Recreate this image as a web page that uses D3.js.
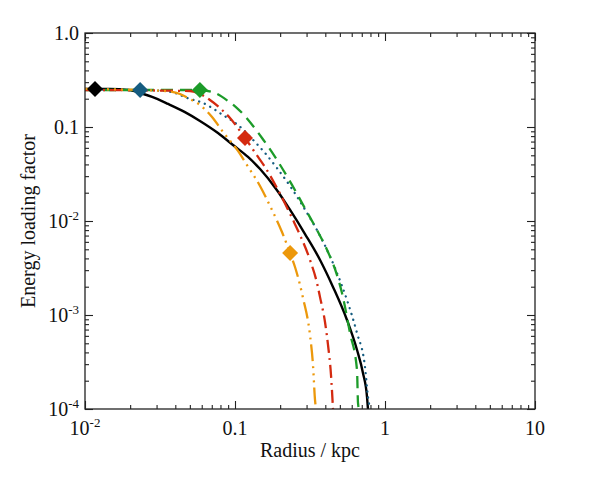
<!DOCTYPE html>
<html>
<head>
<meta charset="utf-8">
<script src="https://cdn.jsdelivr.net/npm/d3@7"></script>
<style>
body { margin: 0; background: #fff; }
svg text { font-family: "Liberation Serif", "Times New Roman", serif; fill: #111; }
</style>
</head>
<body>
<svg id="chart" width="598" height="478"></svg>
<script>
// radius (kpc) and energy loading factor for each run
var blackR = [0.0100, 0.0147, 0.0194, 0.0233, 0.0280, 0.0358, 0.0464, 0.0584, 0.0770, 0.0970, 0.122, 0.147, 0.190, 0.233, 0.293, 0.369, 0.450, 0.558, 0.651, 0.713, 0.759, 0.770];
var blackF = [0.254, 0.254, 0.248, 0.230, 0.209, 0.176, 0.144, 0.116, 0.0863, 0.0643, 0.0480, 0.0357, 0.0214, 0.0131, 0.00727, 0.00385, 0.00199, 0.000885, 0.000424, 0.000242, 0.000134, 0.0001];

var blueR = [0.0100, 0.0233, 0.0342, 0.0398, 0.0479, 0.0612, 0.0832, 0.1047, 0.1360, 0.1585, 0.1905, 0.2326, 0.3020, 0.3576, 0.4169, 0.4642, 0.5667, 0.6506, 0.7356, 0.7703, 0.7943];
var blueF = [0.2475, 0.2475, 0.2415, 0.2299, 0.2035, 0.1800, 0.1341, 0.1050, 0.0693, 0.0529, 0.0366, 0.0236, 0.0122, 0.00764, 0.00468, 0.00316, 0.00134, 0.000643, 0.000280, 0.000134, 0.0001];

var greenR = [0.0100, 0.0584, 0.0736, 0.0898, 0.1031, 0.1514, 0.1905, 0.2399, 0.3020, 0.3521, 0.4169, 0.4786, 0.5168, 0.5843, 0.6506, 0.6607, 0.6709];
var greenF = [0.2475, 0.2475, 0.2299, 0.1890, 0.1592, 0.0764, 0.0446, 0.0242, 0.01246, 0.00802, 0.00468, 0.00266, 0.00171, 0.000643, 0.000260, 0.000116, 0.0001];

var redR = [0.0100, 0.0501, 0.0584, 0.0681, 0.0794, 0.0926, 0.1166, 0.1424, 0.1585, 0.1905, 0.2436, 0.2712, 0.3162, 0.3521, 0.3688, 0.3981, 0.4169, 0.4365, 0.4502];
var redF = [0.2475, 0.2415, 0.2244, 0.1937, 0.1592, 0.1246, 0.0764, 0.0480, 0.0375, 0.0224, 0.01025, 0.00710, 0.00385, 0.00219, 0.00155, 0.000842, 0.000480, 0.000230, 0.0001];

var orangeR = [0.0100, 0.0342, 0.0430, 0.0486, 0.0584, 0.0703, 0.0832, 0.1047, 0.1202, 0.1468, 0.1765, 0.2057, 0.2326, 0.2512, 0.2712, 0.2840, 0.3162, 0.3311, 0.3415, 0.3467];
var orangeF = [0.254, 0.2415, 0.2244, 0.2035, 0.1714, 0.1277, 0.0885, 0.0556, 0.0394, 0.0236, 0.01309, 0.00764, 0.00457, 0.00324, 0.00209, 0.00152, 0.000612, 0.000294, 0.000125, 0.0001];

// diamond markers, same order: black, blue, green, red, orange
var markerR = [0.01166, 0.0233, 0.0583, 0.1166, 0.233];
var markerF = [0.254, 0.248, 0.248, 0.0764, 0.00457];

// tick labels
var xMajor = [0.01, 0.1, 1, 10];
var xLabelBase = ["10", "0.1", "1", "10"];
var xLabelSup = ["-2", "", "", ""];
var yMajor = [1, 0.1, 0.01, 0.001, 0.0001];
var yLabelBase = ["1.0", "0.1", "10", "10", "10"];
var yLabelSup = ["", "", "-2", "-3", "-4"];

var series = [
    {r: blackR, f: blackF, color: "#000000", dash: null, cap: "butt"},
    {r: blueR, f: blueF, color: "#155c80", dash: "0.1,6", cap: "round"},
    {r: greenR, f: greenF, color: "#1c9b29", dash: "12,7", cap: "butt"},
    {r: redR, f: redF, color: "#d42a10", dash: "13,5,2,5", cap: "butt"},
    {r: orangeR, f: orangeF, color: "#ec980b", dash: "17,5,2,5,2,5,2,5", cap: "butt"}
];

var plotLeft = 85, plotRight = 535, plotTop = 33, plotBottom = 409;

var svg = d3.select("#chart");

var x = d3.scaleLog().domain([0.01, 10]).range([plotLeft, plotRight]);
var y = d3.scaleLog().domain([0.0001, 1]).range([plotBottom, plotTop]);

svg.append("defs").append("clipPath").attr("id", "plotClip")
    .append("rect")
    .attr("x", plotLeft).attr("y", plotTop)
    .attr("width", plotRight - plotLeft).attr("height", plotBottom - plotTop);

// curves
var line = d3.line()
    .x(function(d){ return x(d[0]); })
    .y(function(d){ return y(d[1]); })
    .curve(d3.curveMonotoneX);

var plot = svg.append("g").attr("clip-path", "url(#plotClip)");

series.forEach(function(s){
    var pts = s.r.map(function(r, i){ return [r, s.f[i]]; });
    plot.append("path")
        .datum(pts)
        .attr("d", line)
        .attr("fill", "none")
        .attr("stroke", s.color)
        .attr("stroke-width", s.dash ? 2.3 : 2.4)
        .attr("stroke-linecap", s.cap)
        .attr("stroke-dasharray", s.dash);
});

// markers
var diamond = "M0,-8L8,0L0,8L-8,0Z";
svg.append("g").selectAll("path")
    .data(markerR)
    .enter()
    .append("path")
    .attr("d", diamond)
    .attr("transform", function(d, i){ return "translate(" + x(d) + "," + y(markerF[i]) + ")"; })
    .attr("fill", function(d, i){ return series[i].color; });

// axes: ticks on all four sides, pointing inward
function isMajor(v){
    var l = Math.log10(v);
    return Math.abs(l - Math.round(l)) < 1e-6;
}
var majorLen = 8, minorLen = 4;

function drawAxis(axis, transform, attr, sign){
    var g = svg.append("g").attr("transform", transform).call(axis);
    g.select(".domain").remove();
    g.selectAll(".tick text").remove();
    g.selectAll(".tick line")
        .attr("stroke", "#222")
        .attr("stroke-width", 1.1)
        .attr(attr, function(d){ return sign * (isMajor(d) ? majorLen : minorLen); });
}

drawAxis(d3.axisBottom(x).tickValues(x.ticks()).tickFormat(""), "translate(0," + plotBottom + ")", "y2", -1);
drawAxis(d3.axisTop(x).tickValues(x.ticks()).tickFormat(""), "translate(0," + plotTop + ")", "y2", 1);
drawAxis(d3.axisLeft(y).tickValues(y.ticks()).tickFormat(""), "translate(" + plotLeft + ",0)", "x2", 1);
drawAxis(d3.axisRight(y).tickValues(y.ticks()).tickFormat(""), "translate(" + plotRight + ",0)", "x2", -1);

svg.append("rect")
    .attr("x", plotLeft).attr("y", plotTop)
    .attr("width", plotRight - plotLeft).attr("height", plotBottom - plotTop)
    .attr("fill", "none")
    .attr("stroke", "#222")
    .attr("stroke-width", 1.3);

// tick labels
var xl = svg.append("g").selectAll("text")
    .data(xMajor)
    .enter()
    .append("text")
    .attr("x", function(d){ return x(d); })
    .attr("y", 435)
    .attr("text-anchor", "middle")
    .attr("font-size", 20);
xl.append("tspan").text(function(d, i){ return xLabelBase[i]; });
xl.append("tspan")
    .attr("font-size", 13)
    .attr("dy", -8)
    .text(function(d, i){ return xLabelSup[i]; });

var yl = svg.append("g").selectAll("text")
    .data(yMajor)
    .enter()
    .append("text")
    .attr("x", 79)
    .attr("y", function(d){ return y(d) + 7; })
    .attr("text-anchor", "end")
    .attr("font-size", 20);
yl.append("tspan").text(function(d, i){ return yLabelBase[i]; });
yl.append("tspan")
    .attr("font-size", 13)
    .attr("dy", -8)
    .text(function(d, i){ return yLabelSup[i]; });

// axis titles
svg.append("text")
    .attr("x", (plotLeft + plotRight) / 2)
    .attr("y", 457)
    .attr("text-anchor", "middle")
    .attr("font-size", 20)
    .text("Radius / kpc");

svg.append("text")
    .attr("transform", "translate(35," + ((plotTop + plotBottom) / 2) + ") rotate(-90)")
    .attr("text-anchor", "middle")
    .attr("font-size", 20)
    .text("Energy loading factor");
</script>
</body>
</html>
